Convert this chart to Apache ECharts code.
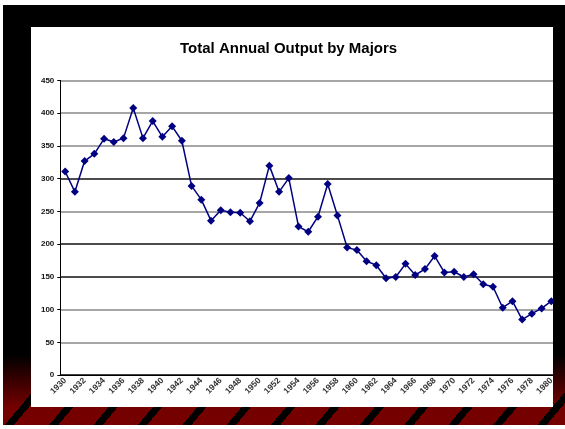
<!DOCTYPE html>
<html>
<head>
    <meta charset="utf-8">
    <title>Total Annual Output by Majors</title>
    <script src="https://cdn.jsdelivr.net/npm/echarts@6/dist/echarts.min.js"></script>
    <style>
        body { margin: 0; background: #fff; width: 565px; height: 429px; position: relative; overflow: hidden; }
        /* slide background: black, fading to dark red at the bottom */
        #slide { position: absolute; left: 3px; top: 5px; width: 562px; height: 420px;
                 background: linear-gradient(to bottom, #000 0px, #000 350px, #740000 402px, #760000 420px); }
        #stripes { position: absolute; left: 0; top: 380px; width: 562px; height: 40px;
                   background: repeating-linear-gradient(130deg, transparent 0px, transparent 27px, #000 27px, #000 34px); }
        #panel { position: absolute; left: 31px; top: 27px; width: 522px; height: 380px; background: #fff; overflow: hidden; }
        #main { position: absolute; left: 0; top: 0; width: 540px; height: 380px; }
    </style>
</head>
<body>
    <div id="slide"><div id="stripes"></div></div>
    <div id="panel"><div id="main"></div></div>
    <script type="text/javascript">
var years = ['1930','1931','1932','1933','1934','1935','1936','1937','1938','1939',
             '1940','1941','1942','1943','1944','1945','1946','1947','1948','1949',
             '1950','1951','1952','1953','1954','1955','1956','1957','1958','1959',
             '1960','1961','1962','1963','1964','1965','1966','1967','1968','1969',
             '1970','1971','1972','1973','1974','1975','1976','1977','1978','1979',
             '1980'];
// output per year
var output = [311, 280, 327, 338, 361, 356, 362, 408, 362, 388,
              364, 380, 358, 289, 268, 236, 252, 249, 248, 235,
              263, 320, 280, 301, 227, 219, 242, 292, 244, 195,
              191, 174, 168, 148, 150, 170, 153, 162, 182, 157,
              158, 150, 154, 139, 135, 103, 113, 85, 94, 102,
              113];
var yTicks = { min: 0, max: 450, step: 50 };

var myChart = echarts.init(document.getElementById('main'));
var font = 'Liberation Sans, Arial, sans-serif';

option = {
    animation: false,
    backgroundColor: '#fff',
    title: {
        text: 'Total Annual Output by Majors',
        left: 149,
        top: 14,
        padding: 0,
        textStyle: { fontFamily: font, fontSize: 15, fontWeight: 'bold', color: '#000' }
    },
    grid: {
        left: 29.3,
        right: 14.8,
        top: 53.5,
        bottom: 31.8,
        containLabel: false,
        outerBoundsMode: 'none'
    },
    xAxis: {
        type: 'category',
        data: years,
        boundaryGap: true,
        axisLine: { lineStyle: { color: '#000', width: 1 } },
        axisTick: { interval: 0, length: 3, lineStyle: { color: '#000' } },
        axisLabel: {
            interval: 1,
            rotate: 45,
            margin: 4,
            fontFamily: font,
            fontSize: 8.5,
            fontWeight: 'bold',
            color: '#333'
        },
        splitLine: { show: false }
    },
    yAxis: {
        type: 'value',
        min: yTicks.min,
        max: yTicks.max,
        interval: yTicks.step,
        axisLine: { show: true, lineStyle: { color: '#000', width: 1 } },
        axisTick: { show: true, length: 3, lineStyle: { color: '#000' } },
        axisLabel: { margin: 6, fontFamily: font, fontSize: 8, fontWeight: 'bold', color: '#111' },
        splitLine: {
            lineStyle: {
                width: 1.5,
                color: ['#000', '#888', '#888', '#111', '#111', '#888', '#111', '#888', '#888', '#888']
            }
        }
    },
    series: [{
        type: 'line',
        data: output,
        symbol: 'diamond',
        symbolSize: 8,
        showSymbol: true,
        showAllSymbol: true,
        itemStyle: { color: '#000080' },
        lineStyle: { color: '#000080', width: 1.5 }
    }]
};

myChart.setOption(option);
    </script>
</body>
</html>
